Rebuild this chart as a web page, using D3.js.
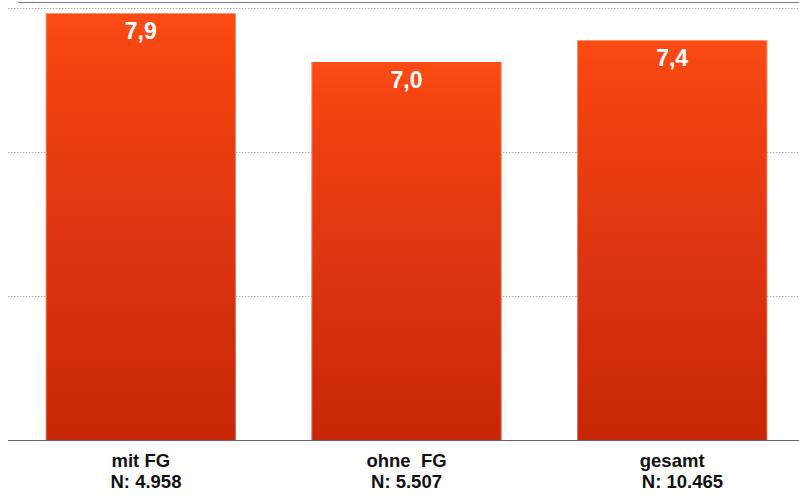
<!DOCTYPE html>
<html>
<head>
<meta charset="utf-8">
<script src="https://cdn.jsdelivr.net/npm/d3@7"></script>
<style>
  html, body { margin: 0; padding: 0; background: #fff; }
  svg { display: block; }
  text { font-family: "Liberation Sans", Arial, Helvetica, sans-serif; }
</style>
</head>
<body>
<svg id="chart" width="799" height="494"></svg>
<script>
// Mean values per group
const categories = ["mit FG", "ohne  FG", "gesamt"];
const sampleLabels = ["  N: 4.958", "N: 5.507", "    N: 10.465"];
const values = [7.9, 7.0, 7.4];
const valueLabels = ["7,9", "7,0", "7,4"];
const yMax = 8;
const gridSteps = 3;

const W = 799, H = 494;
const margin = { top: 8, right: 0, bottom: 54, left: 8 };

const svg = d3.select("#chart");

const x = d3.scaleBand()
  .domain(categories)
  .range([margin.left, W + 6])
  .paddingInner(0.284)
  .paddingOuter(0.142);

const y = d3.scaleLinear()
  .domain([0, yMax])
  .range([H - margin.bottom, margin.top]);

// vertical gradient for the bars
const defs = svg.append("defs");
const grad = defs.append("linearGradient")
  .attr("id", "barGrad")
  .attr("x1", 0).attr("y1", 0).attr("x2", 0).attr("y2", 1);
grad.append("stop").attr("offset", "0%").attr("stop-color", "#fb4c16");
grad.append("stop").attr("offset", "15%").attr("stop-color", "#f1420f");
grad.append("stop").attr("offset", "55%").attr("stop-color", "#dc3512");
grad.append("stop").attr("offset", "100%").attr("stop-color", "#c82606");

// top frame line
svg.append("line")
  .attr("x1", 18).attr("x2", W)
  .attr("y1", 2.5).attr("y2", 2.5)
  .attr("stroke", "#777").attr("stroke-width", 1.2);

// dotted grid lines
const gridVals = d3.range(1, gridSteps + 1).map(i => yMax * i / gridSteps);
svg.append("g")
  .selectAll("line")
  .data(gridVals)
  .join("line")
  .attr("x1", margin.left).attr("x2", W)
  .attr("y1", d => Math.round(y(d)) + 0.5)
  .attr("y2", d => Math.round(y(d)) + 0.5)
  .attr("stroke", "#b5b5b5")
  .attr("stroke-width", 1)
  .attr("stroke-dasharray", "1.5,1.5");

// bars
const bars = svg.append("g")
  .selectAll("g")
  .data(values)
  .join("g");

bars.append("rect")
  .attr("x", (d, i) => x(categories[i]))
  .attr("y", d => y(d))
  .attr("width", x.bandwidth())
  .attr("height", d => y(0) - y(d))
  .attr("fill", "url(#barGrad)");

// light edges along bar sides
bars.append("line")
  .attr("x1", (d, i) => x(categories[i]) + 0.5)
  .attr("x2", (d, i) => x(categories[i]) + 0.5)
  .attr("y1", d => y(d)).attr("y2", y(0))
  .attr("stroke", "#fff").attr("stroke-opacity", 0.35);
bars.append("line")
  .attr("x1", (d, i) => x(categories[i]) + x.bandwidth() - 0.5)
  .attr("x2", (d, i) => x(categories[i]) + x.bandwidth() - 0.5)
  .attr("y1", d => y(d)).attr("y2", y(0))
  .attr("stroke", "#fff").attr("stroke-opacity", 0.3);

// value labels inside the bars
bars.append("text")
  .attr("x", (d, i) => x(categories[i]) + x.bandwidth() / 2)
  .attr("y", d => y(d) + 26)
  .attr("text-anchor", "middle")
  .attr("fill", "#fff")
  .attr("font-weight", "bold")
  .attr("font-size", 23)
  .text((d, i) => valueLabels[i]);

// baseline
svg.append("line")
  .attr("x1", margin.left).attr("x2", W)
  .attr("y1", y(0) + 0.5).attr("y2", y(0) + 0.5)
  .attr("stroke", "#666").attr("stroke-width", 1.2);

// category labels with sample sizes
const labels = svg.append("g")
  .selectAll("text")
  .data(categories)
  .join("text")
  .attr("text-anchor", "middle")
  .attr("font-weight", "bold")
  .attr("font-size", 18.5)
  .attr("fill", "#111")
  .style("white-space", "pre");

labels.append("tspan")
  .attr("x", d => x(d) + x.bandwidth() / 2)
  .attr("y", 467)
  .text(d => d);
labels.append("tspan")
  .attr("x", d => x(d) + x.bandwidth() / 2)
  .attr("y", 488)
  .text((d, i) => sampleLabels[i]);
</script>
</body>
</html>
